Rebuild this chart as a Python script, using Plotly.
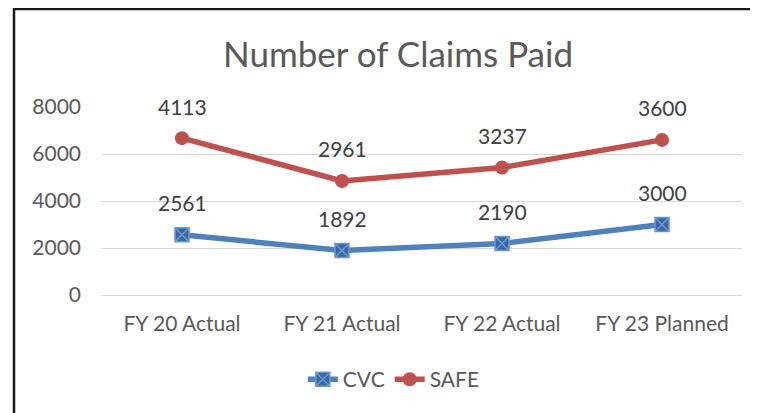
import plotly.graph_objects as go

categories = ["FY 20 Actual", "FY 21 Actual", "FY 22 Actual", "FY 23 Planned"]
cvc = [2561, 1892, 2190, 3000]
safe = [4113, 2961, 3237, 3600]
y_ticks = [0, 2000, 4000, 6000, 8000]

# Excel stacked line: SAFE plotted on top of CVC
safe_stacked = [c + s for c, s in zip(cvc, safe)]

FONT = "Lato"
BLUE = "#4F81BD"
RED = "#C0504D"

fig = go.Figure()
fig.add_trace(go.Scatter(
    x=categories, y=cvc, name="CVC", mode="lines+markers",
    line=dict(color=BLUE, width=5.5),
    marker=dict(symbol="square-x", size=14, color="#3A68A6",
                line=dict(color="#6A98D4", width=1.5)),
))
fig.add_trace(go.Scatter(
    x=categories, y=safe_stacked, name="SAFE", mode="lines+markers",
    line=dict(color=RED, width=5.5),
    marker=dict(symbol="circle", size=14, color=RED),
))

annotations = []
for xs, ys, txt in [(categories, cvc, cvc), (categories, safe_stacked, safe)]:
    for xv, yv, t in zip(xs, ys, txt):
        annotations.append(dict(
            x=xv, y=yv, text=str(t), showarrow=False, yshift=32,
            xref="x", yref="y", yanchor="middle",
            font=dict(family=FONT, size=21, color="#404040"),
        ))

annotations.append(dict(
    x=0.4625, y=1.0, xref="paper", yref="paper", yshift=54,
    text="Number of Claims Paid", showarrow=False, yanchor="middle",
    font=dict(family=FONT, size=35, color="#595959"),
))

fig.update_layout(
    width=758, height=413,
    margin=dict(l=94, r=24, t=99, b=126),
    paper_bgcolor="white", plot_bgcolor="white",
    showlegend=True,
    legend=dict(orientation="h", x=0.456, y=-0.45, xanchor="center", yanchor="middle",
                font=dict(family=FONT, size=21, color="#595959"),
                itemwidth=30, tracegroupgap=0),
    annotations=annotations,
    shapes=[dict(type="rect", xref="paper", yref="paper",
                 x0=-0.1375, x1=1.06, y0=-0.8, y1=1.5213,
                 line=dict(color="#1a1a1a", width=2.5), fillcolor="rgba(0,0,0,0)",
                 layer="above")],
    font=dict(family=FONT),
)
fig.update_xaxes(
    type="category", range=[-0.5, 3.5], showgrid=False, showline=False,
    zeroline=False, ticks="", ticklabelstandoff=14,
    tickfont=dict(family=FONT, size=21, color="#595959"),
)
fig.update_yaxes(
    range=[0, 8000], tickvals=y_ticks, ticktext=[str(v) for v in y_ticks],
    showgrid=True, gridcolor="#D9D9D9", gridwidth=1.3,
    zeroline=True, zerolinecolor="#D9D9D9", zerolinewidth=1.3,
    showline=False, ticks="", ticklabelstandoff=20,
    tickfont=dict(family=FONT, size=21, color="#595959"),
)

fig.write_html("out.html")
